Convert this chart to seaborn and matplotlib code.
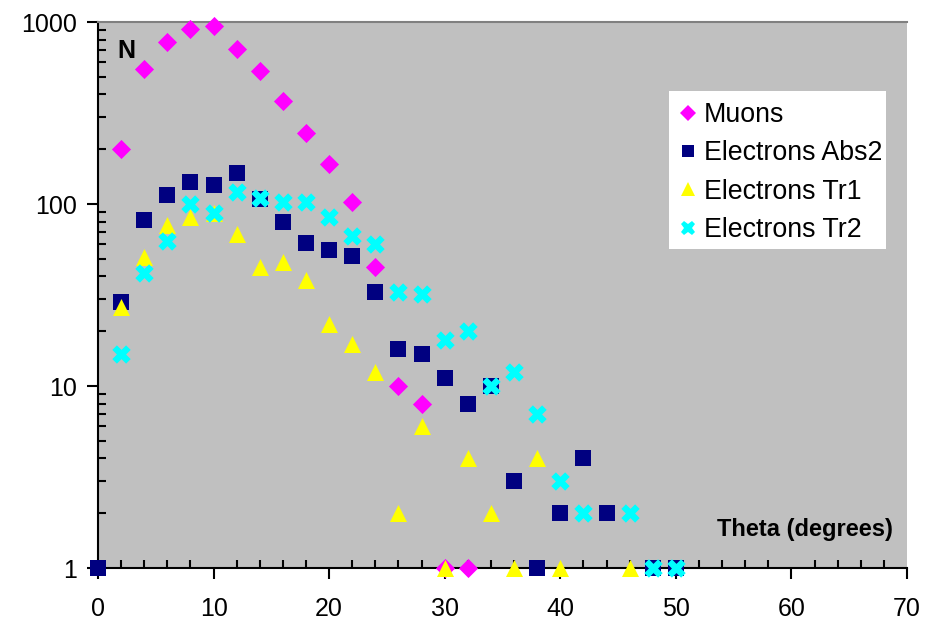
import matplotlib
matplotlib.use("Agg")
import matplotlib.pyplot as plt
import seaborn as sns
import pandas as pd
from matplotlib.ticker import MultipleLocator, LogLocator, FixedLocator, FixedFormatter, NullFormatter
from matplotlib.lines import Line2D
from matplotlib.patches import Rectangle

sns.set_style("white")
plt.rcParams['font.family'] = ['Liberation Sans', 'DejaVu Sans']
plt.rcParams['text.color'] = 'black'

# ---- data ----
muons_theta = [2, 4, 6, 8, 10, 12, 14, 16, 18, 20, 22, 24, 26, 28, 30, 32]
muons_n = [200, 550, 780, 910, 950, 710, 540, 370, 245, 165, 103, 45, 10, 8, 1, 1]

abs2_theta = [0, 2, 4, 6, 8, 10, 12, 14, 16, 18, 20, 22, 24, 26, 28, 30, 32, 34, 36, 38, 40, 42, 44, 48, 50]
abs2_n = [1, 29, 82, 112, 132, 127, 148, 106, 80, 61, 56, 52, 33, 16, 15, 11, 8, 10, 3, 1, 2, 4, 2, 1, 1]

tr1_theta = [2, 4, 6, 8, 10, 12, 14, 16, 18, 20, 22, 24, 26, 28, 30, 32, 34, 36, 38, 40, 46]
tr1_n = [27, 51, 77, 85, 89, 68, 45, 48, 38, 22, 17, 12, 2, 6, 1, 4, 2, 1, 4, 1, 1]

tr2_theta = [2, 4, 6, 8, 10, 12, 14, 16, 18, 20, 22, 24, 26, 28, 30, 32, 34, 36, 38, 40, 42, 46, 48, 50]
tr2_n = [15, 42, 63, 100, 89, 116, 108, 102, 102, 85, 67, 60, 33, 32, 18, 20, 10, 12, 7, 3, 2, 2, 1, 1]

series_names = ["Muons", "Electrons Abs2", "Electrons Tr1", "Electrons Tr2"]
series_colors = ["#ff00ff", "#000080", "#ffff00", "#00ffff"]
series_markers = ["D", "s", "^", "X"]
series_sizes = [95, 120, 150, 175]

x_ticks = [0, 10, 20, 30, 40, 50, 60, 70]
y_ticks = [1, 10, 100, 1000]
y_tick_labels = ["1", "10", "100", "1000"]

frames = [
    pd.DataFrame({"theta": muons_theta, "n": muons_n, "series": series_names[0]}),
    pd.DataFrame({"theta": abs2_theta, "n": abs2_n, "series": series_names[1]}),
    pd.DataFrame({"theta": tr1_theta, "n": tr1_n, "series": series_names[2]}),
    pd.DataFrame({"theta": tr2_theta, "n": tr2_n, "series": series_names[3]}),
]

W, H = 939, 621
fig = plt.figure(figsize=(W / 100, H / 100), dpi=100)
ax = fig.add_axes([98 / W, 1 - 568 / H, (907 - 98) / W, (568 - 22) / H])
ax.set_facecolor("#c0c0c0")

for i, df in enumerate(frames):
    sns.scatterplot(data=df, x="theta", y="n", ax=ax, color=series_colors[i],
                    marker=series_markers[i], s=series_sizes[i], linewidth=0,
                    clip_on=False, zorder=3 + i, legend=False)

ax.set_yscale("log")
ax.set_xlim(0, 70)
ax.set_ylim(1, 1000)
ax.set_xlabel("")
ax.set_ylabel("")

ax.xaxis.set_major_locator(FixedLocator(x_ticks))
ax.xaxis.set_minor_locator(MultipleLocator(2))
ax.yaxis.set_major_locator(FixedLocator(y_ticks))
ax.yaxis.set_major_formatter(FixedFormatter(y_tick_labels))
ax.yaxis.set_minor_locator(LogLocator(base=10, subs=range(2, 10)))
ax.yaxis.set_minor_formatter(NullFormatter())

ax.tick_params(axis="both", which="both", bottom=True, left=True, top=False, right=False)
ax.tick_params(axis="both", which="major", direction="out", length=8, width=1.5,
               labelsize=18, colors="black", labelcolor="black")
ax.tick_params(axis="both", which="minor", direction="in", length=6, width=1.5, colors="black")
ax.tick_params(axis="y", which="major", pad=7)
ax.tick_params(axis="x", which="major", pad=13)

for sp in ["left", "bottom"]:
    ax.spines[sp].set_color("black")
    ax.spines[sp].set_linewidth(1.5)
ax.spines["top"].set_color("#808080")
ax.spines["top"].set_linewidth(1.5)
ax.spines["right"].set_visible(False)

ax.text(0.024, 0.968, "N", transform=ax.transAxes, fontsize=18, fontweight="bold",
        va="top", ha="left", color="black")
ax.text(0.983, 0.07, "Theta (degrees)", transform=ax.transAxes, fontsize=17,
        fontweight="bold", va="center", ha="right", color="black")

# legend box
fig.patches.append(Rectangle((669 / W, 1 - 249 / H), (886 - 669) / W, (249 - 91) / H,
                             transform=fig.transFigure, facecolor="white",
                             edgecolor="none", zorder=10))

handles = [Line2D([0], [0], linestyle="none", marker=series_markers[i],
                  markersize=(series_sizes[i] ** 0.5) * 0.8, markerfacecolor=series_colors[i],
                  markeredgewidth=0)
           for i in range(4)]
leg = fig.legend(handles, series_names, loc="upper left",
                 bbox_to_anchor=(682 / W, 1 - 102 / H), fontsize=19.3,
                 frameon=False, handlelength=0.45, handletextpad=0.37,
                 labelspacing=0.46, borderpad=0, borderaxespad=0)
leg.set_zorder(11)
for t in leg.get_texts():
    t.set_color("black")

fig.savefig("out.png", dpi=100)
